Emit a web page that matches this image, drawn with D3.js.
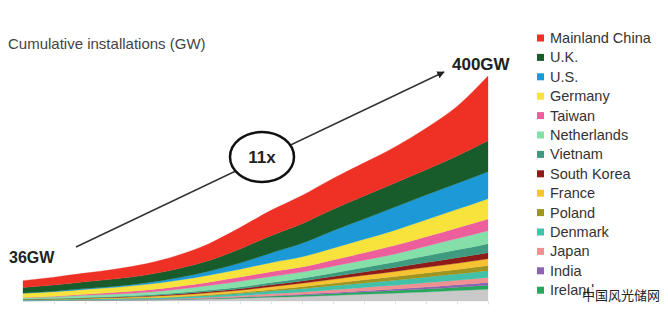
<!DOCTYPE html>
<html><head><meta charset="utf-8">
<script src="https://cdn.jsdelivr.net/npm/d3@7"></script>
<style>html,body{margin:0;padding:0;background:#fff;}svg{display:block;font-family:Arial,"Liberation Sans",sans-serif;}</style>
</head><body>
<svg id="c" width="668" height="325"></svg>
<script>
const years = [2020,2021,2022,2023,2024,2025,2026,2027,2028,2029,2030,2031,2032,2033,2034,2035];
const seriesNames = ["Mainland China","U.K.","U.S.","Germany","Taiwan","Netherlands","Vietnam","South Korea","France","Poland","Denmark","Japan","India","Ireland","Others"];
const mainlandChina = [12,14,15.5,17.5,20,24,30,38,45,50,55,59,64,74,88,115];
const uk = [10,11,12,13,14,16,19,25,31,35,38,41,43,45,49,55];
const us = [0.5,1,1.5,2,3,4.5,7,11,17,24,31,36,41,44,46,48];
const germany = [7.5,8,8.5,9,10,11,12.5,14,16,18,21,24,27,30,33,36];
const taiwan = [0.5,1,2,3,4,5,6,7.5,8.5,9,11,13,15.5,17,19,21];
const netherlands = [2.5,3,4,4.5,5,6.5,8,10,11,11,12,13,14,17,20,23];
const vietnam = [0.3,0.5,0.8,1,1.5,2,2.5,3,4,5,6.5,8,10,12,14,16];
const southKorea = [0.2,0.3,0.5,0.8,1.2,1.8,2.5,3,3.5,4,5,6,7,8.5,10,11];
const france = [0.2,0.5,1,1.5,2.2,3,3.5,4,5,6,7,8,9,10,11,12];
const poland = [0,0,0,0,0.2,0.5,1,1.5,2.5,3.5,4.5,5.5,6.5,7.5,8,9];
const denmark = [1.7,2,2.2,2.4,2.6,3,3.5,4,5,6,7,8,9,10,11,12];
const japan = [0.2,0.2,0.3,0.5,0.8,1.2,1.8,2.5,3.2,4,5,5.8,6.5,7.5,8.2,9];
const india = [0,0,0,0,0,0,0.2,0.5,1,1.5,2,2.5,3,3.5,4.2,5];
const ireland = [0.1,0.1,0.1,0.1,0.1,0.5,1,1.5,2,2.5,3,3.8,4.5,5.3,6,7];
const others = [0.5,0.8,1.2,1.6,2,2.5,3.5,5,6.5,8,10,12,14,16,18.5,21];
const startLabel = "36GW", endLabel = "400GW", growthLabel = "11x";

const values = [mainlandChina,uk,us,germany,taiwan,netherlands,vietnam,southKorea,france,poland,denmark,japan,india,ireland,others];
const colors = ["#ee3124","#195c2b","#1c9ad8","#f7e33c","#ec5f9c","#84dfa8","#3f9b80","#8e1b17","#f6c333","#9d9422","#41c0aa","#f09090","#8a64b0","#27a85c","#c9c9c9"];

const rows = years.map((y,i)=>{const r={year:y};seriesNames.forEach((n,k)=>r[n]=values[k][i]);return r;});
const stackOrder = seriesNames.slice().reverse(); // Others at the bottom, China on top
const stacked = d3.stack().keys(stackOrder)(rows);

const svg = d3.select("#c");
const x = d3.scaleLinear().domain([years[0], years[years.length-1]]).range([23,488]);
const y = d3.scaleLinear().domain([0,400]).range([301,76]);

const area = d3.area().x(d=>x(d.data.year)).y0(d=>y(d[0])).y1(d=>y(d[1])).curve(d3.curveMonotoneX);
svg.append("g").selectAll("path").data(stacked).join("path")
  .attr("d",area)
  .attr("fill",d=>colors[seriesNames.indexOf(d.key)])
  .attr("stroke",d=>colors[seriesNames.indexOf(d.key)]).attr("stroke-width",0.3);

// faint axis ticks
const ax = svg.append("g").attr("transform","translate(0,301.5)")
  .call(d3.axisBottom(x).tickValues(years.slice(1)).tickSize(3).tickFormat(""));
ax.select(".domain").remove();
ax.selectAll(".tick line").attr("stroke","#e0e0e0");

// title
svg.append("text").attr("x",8).attr("y",49).attr("font-size",15).attr("fill","#444").text("Cumulative installations (GW)");

// arrow
svg.append("defs").append("marker").attr("id","ah").attr("viewBox","0 0 10 10").attr("refX",9).attr("refY",5)
  .attr("markerWidth",5).attr("markerHeight",5).attr("orient","auto")
  .append("path").attr("d","M0,0L10,5L0,10z").attr("fill","#222");
svg.append("line").attr("x1",76).attr("y1",247).attr("x2",444).attr("y2",72)
  .attr("stroke","#333").attr("stroke-width",1.5).attr("marker-end","url(#ah)");

// circle
svg.append("ellipse").attr("cx",262).attr("cy",157).attr("rx",32).attr("ry",25)
  .attr("fill","#fff").attr("stroke","#111").attr("stroke-width",2.5);
svg.append("text").attr("x",262).attr("y",163).attr("text-anchor","middle").attr("font-size",17).attr("font-weight","bold").attr("fill","#222").text(growthLabel);

svg.append("text").attr("x",9).attr("y",263).attr("font-size",16).attr("font-weight","bold").attr("fill","#222").text(startLabel);
svg.append("text").attr("x",452).attr("y",70).attr("font-size",17).attr("font-weight","bold").attr("fill","#222").text(endLabel);

// legend
const lg = svg.append("g");
seriesNames.slice(0,14).forEach((n,i)=>{
  const cy = 38 + i*19.4;
  lg.append("rect").attr("x",537).attr("y",cy-3.5).attr("width",7).attr("height",7).attr("fill",colors[i]);
  lg.append("text").attr("x",550).attr("y",cy+5).attr("font-size",14.5).attr("fill","#333").text(n);
});

// watermark (covers the end of the last legend label, as in the source image)
svg.append("rect").attr("x",589).attr("y",287).attr("width",73).attr("height",16).attr("fill","#fff").attr("fill-opacity",0.85);
svg.append("text").attr("x",582).attr("y",300).attr("font-size",13).attr("fill","#222")
  .attr("font-family","'Noto Sans CJK SC',sans-serif").text("中国风光储网");
</script>
</body></html>
